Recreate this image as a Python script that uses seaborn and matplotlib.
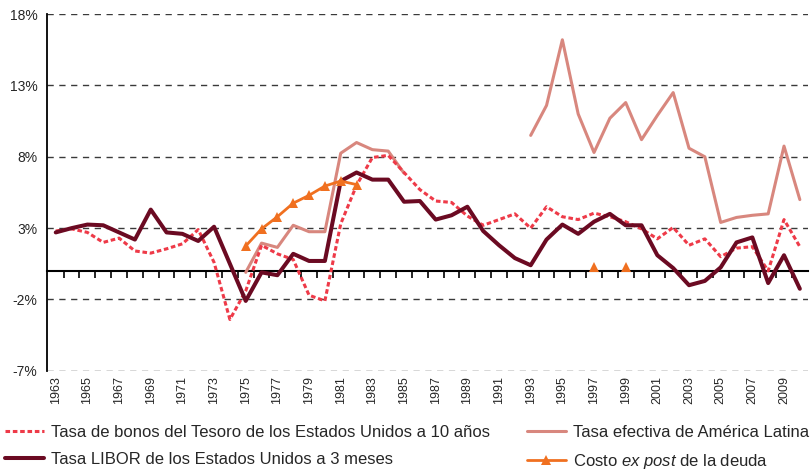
import pandas as pd
import matplotlib
matplotlib.use("Agg")
import matplotlib.pyplot as plt
import seaborn as sns

# === DATOS (en %) ===
anios = list(range(1963, 2011))

tesoro_10a = [2.8, 2.95, 2.7, 2.0, 2.3, 1.4, 1.25, 1.55, 1.9, 2.9,
              0.6, -3.4, -1.4, 1.8, 1.2, 0.8, -1.7, -2.1, 3.3, 6.0,
              7.95, 8.1, 6.9, 5.7, 4.9, 4.8, 3.85, 3.2, 3.6, 4.0,
              3.0, 4.5, 3.8, 3.6, 4.05, 3.8, 3.45, 2.95, 2.25, 3.05,
              1.8, 2.25, 1.0, 1.6, 1.7, 0.0, 3.6, 1.7]

libor_3m = [2.7, 3.0, 3.25, 3.2, 2.7, 2.2, 4.3, 2.7, 2.6, 2.1,
            3.1, 0.5, -2.1, -0.1, -0.3, 1.2, 0.7, 0.7, 6.3, 6.9,
            6.4, 6.4, 4.85, 4.9, 3.6, 3.9, 4.5, 2.8, 1.8, 0.9,
            0.4, 2.2, 3.25, 2.6, 3.45, 4.0, 3.2, 3.2, 1.1, 0.2,
            -1.0, -0.7, 0.25, 2.0, 2.35, -0.85, 1.1, -1.25]

N = None
tasa_al = [N, N, N, N, N, N, N, N, N, N,
           N, N, -0.1, 1.95, 1.65, 3.2, 2.75, 2.75, 8.25, 9.0,
           8.5, 8.4, 6.85, N, N, N, N, N, N, N,
           9.5, 11.6, 16.2, 11.0, 8.3, 10.7, 11.8, 9.2, 10.9, 12.5,
           8.6, 8.0, 3.4, 3.75, 3.9, 4.0, 8.75, 5.0]

costo_ex_post = [N, N, N, N, N, N, N, N, N, N,
                 N, N, 1.75, 2.95, 3.8, 4.75, 5.3, 5.95, 6.3, 6.05,
                 N, N, N, N, N, N, N, N, N, N,
                 N, N, N, N, 0.3, N, 0.3, N, N, N,
                 N, N, N, N, N, N, N, N]

etiquetas_y = ["-7%", "-2%", "3%", "8%", "13%", "18%"]
valores_y = [-7, -2, 3, 8, 13, 18]


def tramos(valores):
    """Parte una serie con huecos en tramos continuos (para no unir a traves de los None)."""
    filas = []
    tramo = 0
    previo = False
    for i, v in enumerate(valores):
        if v is None:
            if previo:
                tramo += 1
            previo = False
            continue
        filas.append({"x": i, "valor": v, "tramo": tramo})
        previo = True
    return pd.DataFrame(filas)


sns.set_style("white")
plt.rcParams["font.family"] = ["Liberation Sans", "DejaVu Sans"]
plt.rcParams["mathtext.fontset"] = "custom"
plt.rcParams["mathtext.rm"] = "Liberation Sans"
plt.rcParams["mathtext.it"] = "Liberation Sans:italic"

fig, ax = plt.subplots(figsize=(8.11, 4.70), dpi=100)
fig.subplots_adjust(left=0.058, right=0.996, top=0.970, bottom=0.211)

series = [
    ("Tasa efectiva de América Latina", tasa_al,
     dict(color="#D8877E", linewidth=2.2)),
    ("Tasa de bonos del Tesoro de los Estados Unidos a 10 años", tesoro_10a,
     dict(color="#EE3A48", linewidth=2.2, linestyle=(0, (1.5, 0.9)))),
    ("Tasa LIBOR de los Estados Unidos a 3 meses", libor_3m,
     dict(color="#6B0A22", linewidth=2.9)),
    ("Costo $\\mathit{ex\\ post}$ de la deuda", costo_ex_post,
     dict(color="#F07020", linewidth=2.0, marker="^", markersize=7,
          markeredgewidth=0)),
]

for nombre, valores, estilo in series:
    df = tramos(valores)
    sns.lineplot(data=df, x="x", y="valor", units="tramo", estimator=None,
                 ax=ax, label=nombre, legend=False, **estilo)

ax.set_xlim(-0.55, 47.5)
ax.set_ylim(-7, 18)
ax.set_xlabel("")
ax.set_ylabel("")

# eje y
ax.set_yticks(valores_y)
ax.set_yticklabels(etiquetas_y, fontsize=10)
ax.tick_params(axis="y", direction="out", length=5, width=1.2, color="black", pad=2)
ax.yaxis.grid(True, linestyle=(0, (4.5, 4)), color="#3a3a3a", linewidth=1.0)
ax.xaxis.grid(False)
ax.set_axisbelow(True)

for lado in ["top", "right", "bottom"]:
    ax.spines[lado].set_visible(False)
ax.spines["left"].set_color("black")
ax.spines["left"].set_linewidth(1.3)

# eje x: etiquetas cada dos anios
ax.set_xticks(range(0, len(anios), 2))
ax.set_xticklabels([str(a) for a in anios[::2]], rotation=90, fontsize=9)
ax.set_xticks(range(1, len(anios), 2), minor=True)
ax.tick_params(axis="x", which="major", length=0, pad=4)
ax.tick_params(axis="x", which="minor", length=4, width=1.0, color="black",
               direction="out")

# linea del cero con marcas entre categorias
eje0 = ax.secondary_xaxis(7 / 25)
eje0.set_ticks([i - 0.5 for i in range(1, len(anios))])
eje0.tick_params(axis="x", length=5, width=1.2, color="black", direction="out",
                 labelbottom=False, labeltop=False)
for sp in eje0.spines.values():
    sp.set_color("black")
    sp.set_linewidth(1.5)

# leyenda
handles, labels = ax.get_legend_handles_labels()
unicos = dict(zip(labels, handles))
orden = [series[1][0], series[2][0], series[0][0], series[3][0]]
fig.legend([unicos[k] for k in orden], orden, loc="center left",
           bbox_to_anchor=(0.0, 0.047), ncol=2, frameon=False,
           fontsize=12, handlelength=2.35, handletextpad=0.42,
           columnspacing=2.2, labelspacing=0.72, borderpad=0.0,
           borderaxespad=0.3, numpoints=1)

plt.savefig("out.png", dpi=100)
plt.close()
